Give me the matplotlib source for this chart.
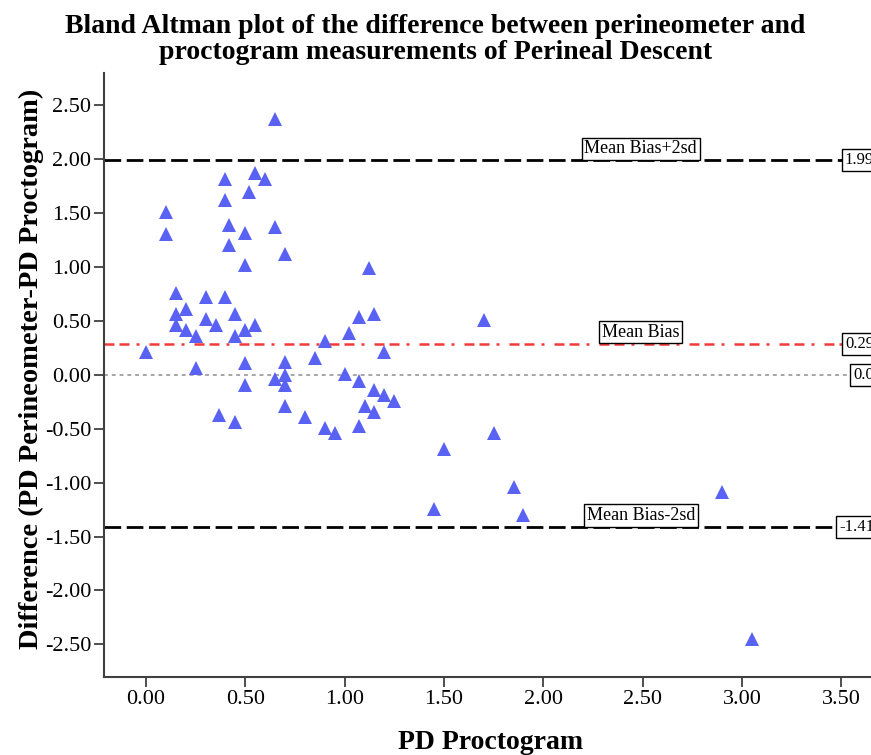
import matplotlib

matplotlib.use("Agg")
import matplotlib.pyplot as plt
import numpy as np


# PD Proctogram (x) and difference Perineometer - Proctogram (y)
pd_proctogram = [
    0.00, 0.10, 0.10, 0.15, 0.15, 0.15, 0.20, 0.20, 0.25, 0.25,
    0.30, 0.30, 0.35, 0.37, 0.40, 0.40, 0.40, 0.42, 0.42, 0.45,
    0.45, 0.45, 0.50, 0.50, 0.50, 0.50, 0.50, 0.52, 0.55, 0.55,
    0.60, 0.65, 0.65, 0.65, 0.70, 0.70, 0.70, 0.70, 0.70, 0.80,
    0.85, 0.90, 0.90, 0.95, 1.00, 1.02, 1.07, 1.07, 1.07, 1.10,
    1.12, 1.15, 1.15, 1.15, 1.20, 1.20, 1.25, 1.45, 1.50, 1.70,
    1.75, 1.85, 1.90, 2.90, 3.05,
]
pd_difference = [
    0.21, 1.51, 1.31, 0.76, 0.56, 0.46, 0.61, 0.42, 0.36, 0.06,
    0.72, 0.52, 0.46, -0.37, 1.82, 1.62, 0.72, 1.39, 1.20, 0.56,
    0.36, -0.44, 1.32, 1.02, 0.42, 0.11, -0.09, 1.70, 1.87, 0.46,
    1.82, 2.37, 1.37, -0.04, 1.12, 0.12, 0.00, -0.09, -0.29, -0.39,
    0.16, 0.31, -0.49, -0.54, 0.01, 0.39, 0.54, -0.06, -0.47, -0.29,
    0.99, 0.56, -0.14, -0.34, 0.21, -0.19, -0.24, -1.24, -0.69, 0.51,
    -0.54, -1.04, -1.30, -1.09, -2.45,
]

MEAN_BIAS = 0.29
UPPER_LIMIT = 1.99
LOWER_LIMIT = -1.41

x_ticks = [0.0, 0.5, 1.0, 1.5, 2.0, 2.5, 3.0, 3.5]
y_ticks = [-2.5, -2.0, -1.5, -1.0, -0.5, 0.0, 0.5, 1.0, 1.5, 2.0, 2.5]

TITLE = (
    "Bland Altman plot of the difference between perineometer and\n"
    "proctogram measurements of Perineal Descent"
)


def add_line_label(ax, text, y, x_center):
    # white box sitting on top of the reference line
    ax.annotate(
        text, xy=(x_center, y), xytext=(0, 2.2), textcoords="offset points",
        ha="center", va="bottom", fontsize=13, zorder=5,
        bbox={"boxstyle": "square,pad=0.15", "facecolor": "white",
              "edgecolor": "black", "linewidth": 1.0},
    )


def add_value_label(ax, text, y, x_right):
    # value of the line, boxed at the right edge of the plot
    ax.annotate(
        text, xy=(x_right, y), xytext=(-2.2, 0), textcoords="offset points",
        ha="right", va="center", fontsize=12, zorder=5, annotation_clip=False,
        bbox={"boxstyle": "square,pad=0.18", "facecolor": "white",
              "edgecolor": "black", "linewidth": 1.0},
    )


def main():
    plt.rcParams["font.family"] = ["Liberation Serif", "DejaVu Serif"]

    fig = plt.figure(figsize=(8.71, 7.55), dpi=100)
    ax = fig.add_axes([0.1197, 0.1037, 0.9033, 0.7996])

    ax.axhline(0.0, color="#a6a6a6", linewidth=1.4, dashes=(2, 2), zorder=1)
    ax.axhline(MEAN_BIAS, color="#f23a3a", linewidth=1.8,
               dashes=(4, 2, 4, 2.8, 1.2, 4), zorder=1)
    ax.axhline(UPPER_LIMIT, color="black", linewidth=2.0, dashes=(6, 2), zorder=1)
    ax.axhline(LOWER_LIMIT, color="black", linewidth=2.0, dashes=(6, 2), zorder=1)

    ax.plot(pd_proctogram, pd_difference, linestyle="none", marker="^",
            markersize=10, color="#5a62f4", markeredgewidth=0, zorder=3)

    add_line_label(ax, "Mean Bias+2sd", UPPER_LIMIT, 2.49)
    add_line_label(ax, "Mean Bias", MEAN_BIAS, 2.49)
    add_line_label(ax, "Mean Bias-2sd", LOWER_LIMIT, 2.49)

    x_right = 3.68
    add_value_label(ax, f"{UPPER_LIMIT:.2f}", UPPER_LIMIT, x_right)
    add_value_label(ax, f"{MEAN_BIAS:.2f}", MEAN_BIAS, x_right)
    add_value_label(ax, "0.0", 0.0, x_right)
    add_value_label(ax, f"{LOWER_LIMIT:.2f}", LOWER_LIMIT, x_right)

    ax.set_xlim(-0.21, 3.75)
    ax.set_ylim(-2.8, 2.8)
    ax.set_xticks(x_ticks)
    ax.set_yticks(y_ticks)
    ax.set_xticklabels([f"{t:.2f}" for t in x_ticks])
    ax.set_yticklabels([f"{t:.2f}" for t in y_ticks])
    ax.tick_params(axis="both", direction="out", length=7.5, width=1.3,
                   color="#404040", labelsize=16, pad=2)

    for side in ("top", "right"):
        ax.spines[side].set_visible(False)
    for side in ("left", "bottom"):
        ax.spines[side].set_color("#404040")
        ax.spines[side].set_linewidth(1.5)

    ax.set_xlabel("PD Proctogram", fontsize=20, fontweight="bold")
    ax.set_ylabel("Difference (PD Perineometer-PD Proctogram)",
                  fontsize=20.5, fontweight="bold")
    ax.xaxis.set_label_coords(0.4916, -0.089)
    ax.xaxis.label.set_va("top")
    ax.yaxis.set_label_coords(-0.077, 0.51)

    fig.text(0.5, 0.982, TITLE, ha="center", va="top", fontsize=20,
             fontweight="bold", linespacing=1.08)

    fig.savefig("out.png", dpi=100)


if __name__ == "__main__":
    main()
